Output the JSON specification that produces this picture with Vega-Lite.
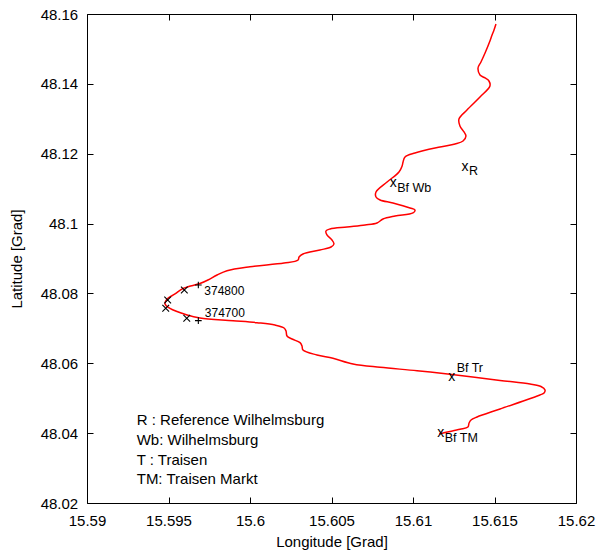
{
  "$schema": "https://vega.github.io/schema/vega-lite/v6.json",
  "width": 489,
  "height": 489,
  "autosize": {"type": "none"},
  "padding": {"left": 87, "top": 14, "right": 22, "bottom": 51},
  "background": "white",
  "config": {
    "view": {"stroke": null},
    "font": "Liberation Sans",
    "axis": {
      "domainColor": "#000",
      "domainWidth": 1,
      "tickColor": "#000",
      "tickWidth": 1,
      "tickSize": -6,
      "grid": false,
      "labelColor": "#000",
      "labelFont": "Liberation Sans",
      "labelFontSize": 15,
      "titleColor": "#000",
      "titleFont": "Liberation Sans",
      "titleFontSize": 15,
      "titleFontWeight": "normal",
      "labelFlush": false,
      "labelOverlap": false
    }
  },
  "datasets": {
    "track": [
      {"i": 1, "lon": 15.61509, "lat": 48.15714},
      {"i": 2, "lon": 15.61497, "lat": 48.15542},
      {"i": 3, "lon": 15.61485, "lat": 48.15399},
      {"i": 4, "lon": 15.61472, "lat": 48.15227},
      {"i": 5, "lon": 15.61442, "lat": 48.14883},
      {"i": 6, "lon": 15.61417, "lat": 48.14626},
      {"i": 7, "lon": 15.61399, "lat": 48.14454},
      {"i": 8, "lon": 15.61411, "lat": 48.14254},
      {"i": 9, "lon": 15.61442, "lat": 48.14168},
      {"i": 10, "lon": 15.61466, "lat": 48.14082},
      {"i": 11, "lon": 15.61472, "lat": 48.13939},
      {"i": 12, "lon": 15.61411, "lat": 48.13624},
      {"i": 13, "lon": 15.61331, "lat": 48.13252},
      {"i": 14, "lon": 15.61282, "lat": 48.12994},
      {"i": 15, "lon": 15.61288, "lat": 48.12794},
      {"i": 16, "lon": 15.61313, "lat": 48.12622},
      {"i": 17, "lon": 15.61325, "lat": 48.12507},
      {"i": 18, "lon": 15.61307, "lat": 48.12364},
      {"i": 19, "lon": 15.61258, "lat": 48.12278},
      {"i": 20, "lon": 15.61166, "lat": 48.12192},
      {"i": 21, "lon": 15.61012, "lat": 48.12021},
      {"i": 22, "lon": 15.60951, "lat": 48.11906},
      {"i": 23, "lon": 15.60939, "lat": 48.11763},
      {"i": 24, "lon": 15.60933, "lat": 48.11648},
      {"i": 25, "lon": 15.60914, "lat": 48.11477},
      {"i": 26, "lon": 15.60841, "lat": 48.1119},
      {"i": 27, "lon": 15.60773, "lat": 48.10904},
      {"i": 28, "lon": 15.60773, "lat": 48.10761},
      {"i": 29, "lon": 15.60798, "lat": 48.10675},
      {"i": 30, "lon": 15.60877, "lat": 48.10589},
      {"i": 31, "lon": 15.60982, "lat": 48.10446},
      {"i": 32, "lon": 15.61012, "lat": 48.10389},
      {"i": 33, "lon": 15.61, "lat": 48.10303},
      {"i": 34, "lon": 15.6089, "lat": 48.10217},
      {"i": 35, "lon": 15.60816, "lat": 48.10131},
      {"i": 36, "lon": 15.60779, "lat": 48.10017},
      {"i": 37, "lon": 15.60706, "lat": 48.09959},
      {"i": 38, "lon": 15.60595, "lat": 48.09902},
      {"i": 39, "lon": 15.60491, "lat": 48.09845},
      {"i": 40, "lon": 15.60466, "lat": 48.09788},
      {"i": 41, "lon": 15.60472, "lat": 48.09673},
      {"i": 42, "lon": 15.60503, "lat": 48.0953},
      {"i": 43, "lon": 15.60515, "lat": 48.09415},
      {"i": 44, "lon": 15.60497, "lat": 48.09329},
      {"i": 45, "lon": 15.60429, "lat": 48.09244},
      {"i": 46, "lon": 15.60325, "lat": 48.09129},
      {"i": 47, "lon": 15.60301, "lat": 48.09043},
      {"i": 48, "lon": 15.60295, "lat": 48.08957},
      {"i": 49, "lon": 15.60209, "lat": 48.08871},
      {"i": 50, "lon": 15.6, "lat": 48.08765},
      {"i": 51, "lon": 15.59859, "lat": 48.08651},
      {"i": 52, "lon": 15.59798, "lat": 48.08528},
      {"i": 53, "lon": 15.59742, "lat": 48.08385},
      {"i": 54, "lon": 15.59693, "lat": 48.08284},
      {"i": 55, "lon": 15.59589, "lat": 48.08141},
      {"i": 56, "lon": 15.5954, "lat": 48.07984},
      {"i": 57, "lon": 15.59491, "lat": 48.07841},
      {"i": 58, "lon": 15.59479, "lat": 48.07697},
      {"i": 59, "lon": 15.59509, "lat": 48.07569},
      {"i": 60, "lon": 15.59614, "lat": 48.07383},
      {"i": 61, "lon": 15.59693, "lat": 48.07297},
      {"i": 62, "lon": 15.59896, "lat": 48.0722},
      {"i": 63, "lon": 15.60043, "lat": 48.07162},
      {"i": 64, "lon": 15.60153, "lat": 48.07096},
      {"i": 65, "lon": 15.60209, "lat": 48.07011},
      {"i": 66, "lon": 15.60221, "lat": 48.06925},
      {"i": 67, "lon": 15.60227, "lat": 48.06782},
      {"i": 68, "lon": 15.60258, "lat": 48.06696},
      {"i": 69, "lon": 15.60307, "lat": 48.0659},
      {"i": 70, "lon": 15.60319, "lat": 48.06495},
      {"i": 71, "lon": 15.60325, "lat": 48.06381},
      {"i": 72, "lon": 15.60411, "lat": 48.06238},
      {"i": 73, "lon": 15.60509, "lat": 48.06143},
      {"i": 74, "lon": 15.60632, "lat": 48.0598},
      {"i": 75, "lon": 15.60798, "lat": 48.05885},
      {"i": 76, "lon": 15.61025, "lat": 48.05788},
      {"i": 77, "lon": 15.61239, "lat": 48.05679},
      {"i": 78, "lon": 15.61534, "lat": 48.05508},
      {"i": 79, "lon": 15.61718, "lat": 48.05407},
      {"i": 80, "lon": 15.61785, "lat": 48.05336},
      {"i": 81, "lon": 15.6181, "lat": 48.05236},
      {"i": 82, "lon": 15.61804, "lat": 48.0515},
      {"i": 83, "lon": 15.61779, "lat": 48.05092},
      {"i": 84, "lon": 15.61534, "lat": 48.04692},
      {"i": 85, "lon": 15.61393, "lat": 48.04462},
      {"i": 86, "lon": 15.61356, "lat": 48.04377},
      {"i": 87, "lon": 15.61344, "lat": 48.04291},
      {"i": 88, "lon": 15.61337, "lat": 48.04176},
      {"i": 89, "lon": 15.61288, "lat": 48.0411},
      {"i": 90, "lon": 15.61196, "lat": 48.04019},
      {"i": 91, "lon": 15.6116, "lat": 48.03976}
    ],
    "crosses": [
      {"lon": 15.59597, "lat": 48.08098},
      {"lon": 15.59495, "lat": 48.07812},
      {"lon": 15.59483, "lat": 48.07574},
      {"lon": 15.59612, "lat": 48.07288}
    ],
    "plus": [
      {"lon": 15.59683, "lat": 48.08241, "km": "374800"},
      {"lon": 15.59683, "lat": 48.0722, "km": "374700"}
    ],
    "stations": [
      {"name": "R", "lon": 15.61319, "lat": 48.11628},
      {"name": "Bf Wb", "lon": 15.60879, "lat": 48.11153},
      {"name": "Bf Tr", "lon": 15.61237, "lat": 48.05616},
      {"name": "Bf TM", "lon": 15.6117, "lat": 48.03996}
    ],
    "notes": [
      {"label": "R : Reference Wilhelmsburg", "lon": 15.59305, "lat": 48.04234},
      {"label": "Wb: Wilhelmsburg", "lon": 15.59305, "lat": 48.03661},
      {"label": "T : Traisen", "lon": 15.59305, "lat": 48.03088},
      {"label": "TM: Traisen Markt", "lon": 15.59305, "lat": 48.02544}
    ]
  },
  "resolve": {"axis": {"x": "independent", "y": "independent"}},
  "layer": [
    {
      "data": {"name": "track"},
      "mark": {"type": "line", "color": "#ff0000", "strokeWidth": 1.5, "interpolate": "catmull-rom"},
      "encoding": {
        "x": {
          "field": "lon", "type": "quantitative",
          "scale": {"domain": [15.59, 15.62], "nice": false, "zero": false},
          "axis": {
            "orient": "bottom",
            "values": [15.59, 15.595, 15.6, 15.605, 15.61, 15.615, 15.62],
            "format": ".3~f",
            "labelBaseline": "alphabetic",
            "labelPadding": 28,
            "title": "Longitude [Grad]",
            "titleX": 244.5, "titleY": 43.7,
            "titleAlign": "center", "titleBaseline": "alphabetic"
          }
        },
        "y": {
          "field": "lat", "type": "quantitative",
          "scale": {"domain": [48.02, 48.16], "nice": false, "zero": false},
          "axis": {
            "orient": "left",
            "values": [48.02, 48.04, 48.06, 48.08, 48.1, 48.12, 48.14, 48.16],
            "format": ".2~f",
            "labelBaseline": "middle",
            "labelPadding": 15.3,
            "title": "Latitude [Grad]",
            "titleAngle": -90,
            "titleX": -65.3, "titleY": 244.5,
            "titleAlign": "center", "titleBaseline": "alphabetic"
          }
        },
        "order": {"field": "i", "type": "quantitative"}
      }
    },
    {
      "data": {"name": "crosses"},
      "mark": {"type": "point", "shape": "M-1,-1L1,1M-1,1L1,-1", "filled": false, "stroke": "#000", "strokeWidth": 1.1, "size": 45, "opacity": 1},
      "encoding": {
        "x": {
          "field": "lon", "type": "quantitative",
          "axis": {"orient": "top", "values": [15.59, 15.595, 15.6, 15.605, 15.61, 15.615, 15.62], "labels": false, "title": null}
        },
        "y": {
          "field": "lat", "type": "quantitative",
          "axis": {"orient": "right", "values": [48.02, 48.04, 48.06, 48.08, 48.1, 48.12, 48.14, 48.16], "labels": false, "title": null}
        }
      }
    },
    {
      "data": {"name": "plus"},
      "mark": {"type": "point", "shape": "M-1,0L1,0M0,-1L0,1", "filled": false, "stroke": "#000", "strokeWidth": 1.1, "size": 45, "opacity": 1},
      "encoding": {
        "x": {"field": "lon", "type": "quantitative", "axis": null},
        "y": {"field": "lat", "type": "quantitative", "axis": null}
      }
    },
    {
      "data": {"name": "plus"},
      "transform": [{"filter": "datum.km == '374800'"}],
      "mark": {"type": "text", "align": "left", "baseline": "alphabetic", "dx": 6, "dy": 10, "fontSize": 12, "font": "Liberation Sans", "color": "#000"},
      "encoding": {
        "x": {"field": "lon", "type": "quantitative", "axis": null},
        "y": {"field": "lat", "type": "quantitative", "axis": null},
        "text": {"field": "km"}
      }
    },
    {
      "data": {"name": "plus"},
      "transform": [{"filter": "datum.km == '374700'"}],
      "mark": {"type": "text", "align": "left", "baseline": "alphabetic", "dx": 6.5, "dy": -4, "fontSize": 12, "font": "Liberation Sans", "color": "#000"},
      "encoding": {
        "x": {"field": "lon", "type": "quantitative", "axis": null},
        "y": {"field": "lat", "type": "quantitative", "axis": null},
        "text": {"field": "km"}
      }
    },
    {
      "data": {"name": "stations"},
      "mark": {"type": "text", "text": "x", "align": "center", "baseline": "middle", "fontSize": 14, "font": "Liberation Sans", "color": "#000"},
      "encoding": {
        "x": {"field": "lon", "type": "quantitative", "axis": null},
        "y": {"field": "lat", "type": "quantitative", "axis": null}
      }
    },
    {
      "data": {"name": "stations"},
      "transform": [{"filter": "datum.name != 'Bf Tr'"}],
      "mark": {"type": "text", "align": "left", "baseline": "alphabetic", "dx": 4, "dy": 8.7, "fontSize": 12.5, "font": "Liberation Sans", "color": "#000"},
      "encoding": {
        "x": {"field": "lon", "type": "quantitative", "axis": null},
        "y": {"field": "lat", "type": "quantitative", "axis": null},
        "text": {"field": "name"}
      }
    },
    {
      "data": {"name": "stations"},
      "transform": [{"filter": "datum.name == 'Bf Tr'"}],
      "mark": {"type": "text", "align": "left", "baseline": "alphabetic", "dx": 5, "dy": -4.4, "fontSize": 12.5, "font": "Liberation Sans", "color": "#000"},
      "encoding": {
        "x": {"field": "lon", "type": "quantitative", "axis": null},
        "y": {"field": "lat", "type": "quantitative", "axis": null},
        "text": {"field": "name"}
      }
    },
    {
      "data": {"name": "notes"},
      "mark": {"type": "text", "align": "left", "baseline": "alphabetic", "fontSize": 15, "font": "Liberation Sans", "color": "#000"},
      "encoding": {
        "x": {"field": "lon", "type": "quantitative", "axis": null},
        "y": {"field": "lat", "type": "quantitative", "axis": null},
        "text": {"field": "label"}
      }
    }
  ]
}
